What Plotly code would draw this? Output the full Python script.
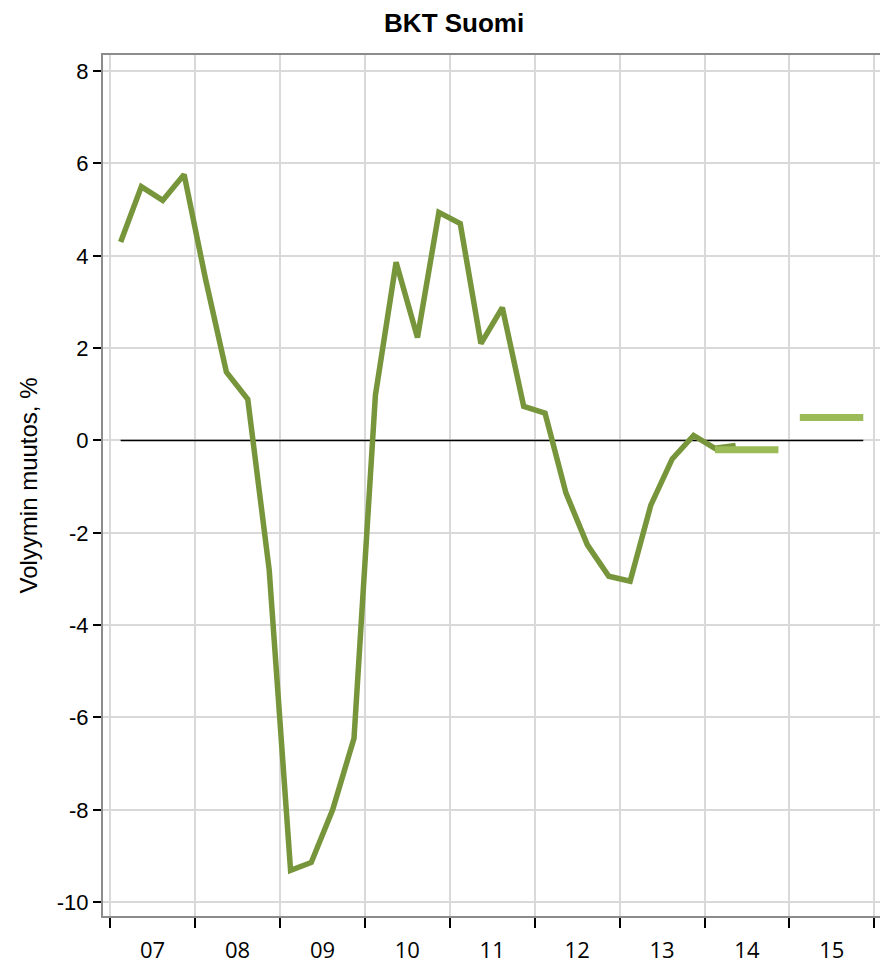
import plotly.graph_objects as go

# Quarterly GDP volume change, % (quarter midpoints)
quarters = [
    "2007-02-15", "2007-05-15", "2007-08-15", "2007-11-15",
    "2008-02-15", "2008-05-15", "2008-08-15", "2008-11-15",
    "2009-02-15", "2009-05-15", "2009-08-15", "2009-11-15",
    "2010-02-15", "2010-05-15", "2010-08-15", "2010-11-15",
    "2011-02-15", "2011-05-15", "2011-08-15", "2011-11-15",
    "2012-02-15", "2012-05-15", "2012-08-15", "2012-11-15",
    "2013-02-15", "2013-05-15", "2013-08-15", "2013-11-15",
    "2014-02-15", "2014-05-15",
]
gdp_change = [
    4.3, 5.5, 5.2, 5.76,
    3.5, 1.48, 0.89, -2.8,
    -9.31, -9.14, -8.0, -6.45,
    0.98, 3.86, 2.23, 4.94,
    4.7, 2.1, 2.88, 0.74,
    0.59, -1.14, -2.26, -2.94,
    -3.05, -1.4, -0.4, 0.11,
    -0.17, -0.11,
]

# Annual forecasts (drawn from Q1 midpoint to Q4 midpoint)
forecast_start = ["2014-02-15", "2015-02-15"]
forecast_end = ["2014-11-15", "2015-11-15"]
forecast_values = [-0.2, 0.5]

zero_span = ["2007-02-15", "2015-11-15"]

y_ticks = [-10, -8, -6, -4, -2, 0, 2, 4, 6, 8]
y_tick_labels = ["-10", "-8", "-6", "-4", "-2", "0", "2", "4", "6", "8"]

DARK = "#77953b"
LIGHT = "#9bbb59"

fig = go.Figure()

fig.add_trace(go.Scatter(
    x=zero_span, y=[0, 0], mode="lines",
    line=dict(color="black", width=1.5), showlegend=False, hoverinfo="skip"))

fig.add_trace(go.Scatter(
    x=quarters, y=gdp_change, mode="lines",
    line=dict(color=DARK, width=5.5), showlegend=False))

for xs, xe, v in zip(forecast_start, forecast_end, forecast_values):
    fig.add_trace(go.Scatter(
        x=[xs, xe], y=[v, v], mode="lines",
        line=dict(color=LIGHT, width=7), showlegend=False))

# page body has an 8px margin, so the figure is 880x955 placed at (8, 8)
fig.update_layout(
    width=880, height=955,
    paper_bgcolor="white", plot_bgcolor="white",
    margin=dict(l=95, r=8, t=47, b=47),
    title=dict(text="<b>BKT Suomi</b>", x=0.507, xanchor="center",
               y=1 - 15 / 955, yanchor="middle", yref="container",
               font=dict(family="Liberation Sans, Arial", size=26, color="black")),
    xaxis=dict(
        type="date", range=["2006-12-01", "2016-01-26"],
        dtick="M12", tick0="2007-01-01", tickformat="%y",
        ticklabelmode="period", ticklabelstandoff=4, automargin=False,
        ticks="outside", ticklen=10, tickwidth=2, tickcolor="black",
        showgrid=True, gridcolor="#d9d9d9", gridwidth=2,
        showline=True, linecolor="#8c8c8c", linewidth=2, mirror=True,
        zeroline=False,
        tickfont=dict(family="Open Sans, Noto Sans", size=22, color="black"),
    ),
    yaxis=dict(
        range=[-10.3, 8.35], tickvals=y_ticks, ticktext=y_tick_labels,
        automargin=False,
        ticks="outside", ticklen=8, tickwidth=2, tickcolor="black",
        showgrid=True, gridcolor="#d9d9d9", gridwidth=2,
        showline=True, linecolor="#8c8c8c", linewidth=2, mirror=True,
        zeroline=False,
        tickfont=dict(family="Liberation Sans, Arial", size=22, color="black"),
        title=dict(text="Volyymin muutos, %", standoff=12,
                   font=dict(family="Liberation Sans, Arial", size=24, color="black")),
    ),
)

fig.write_html("out.html")
